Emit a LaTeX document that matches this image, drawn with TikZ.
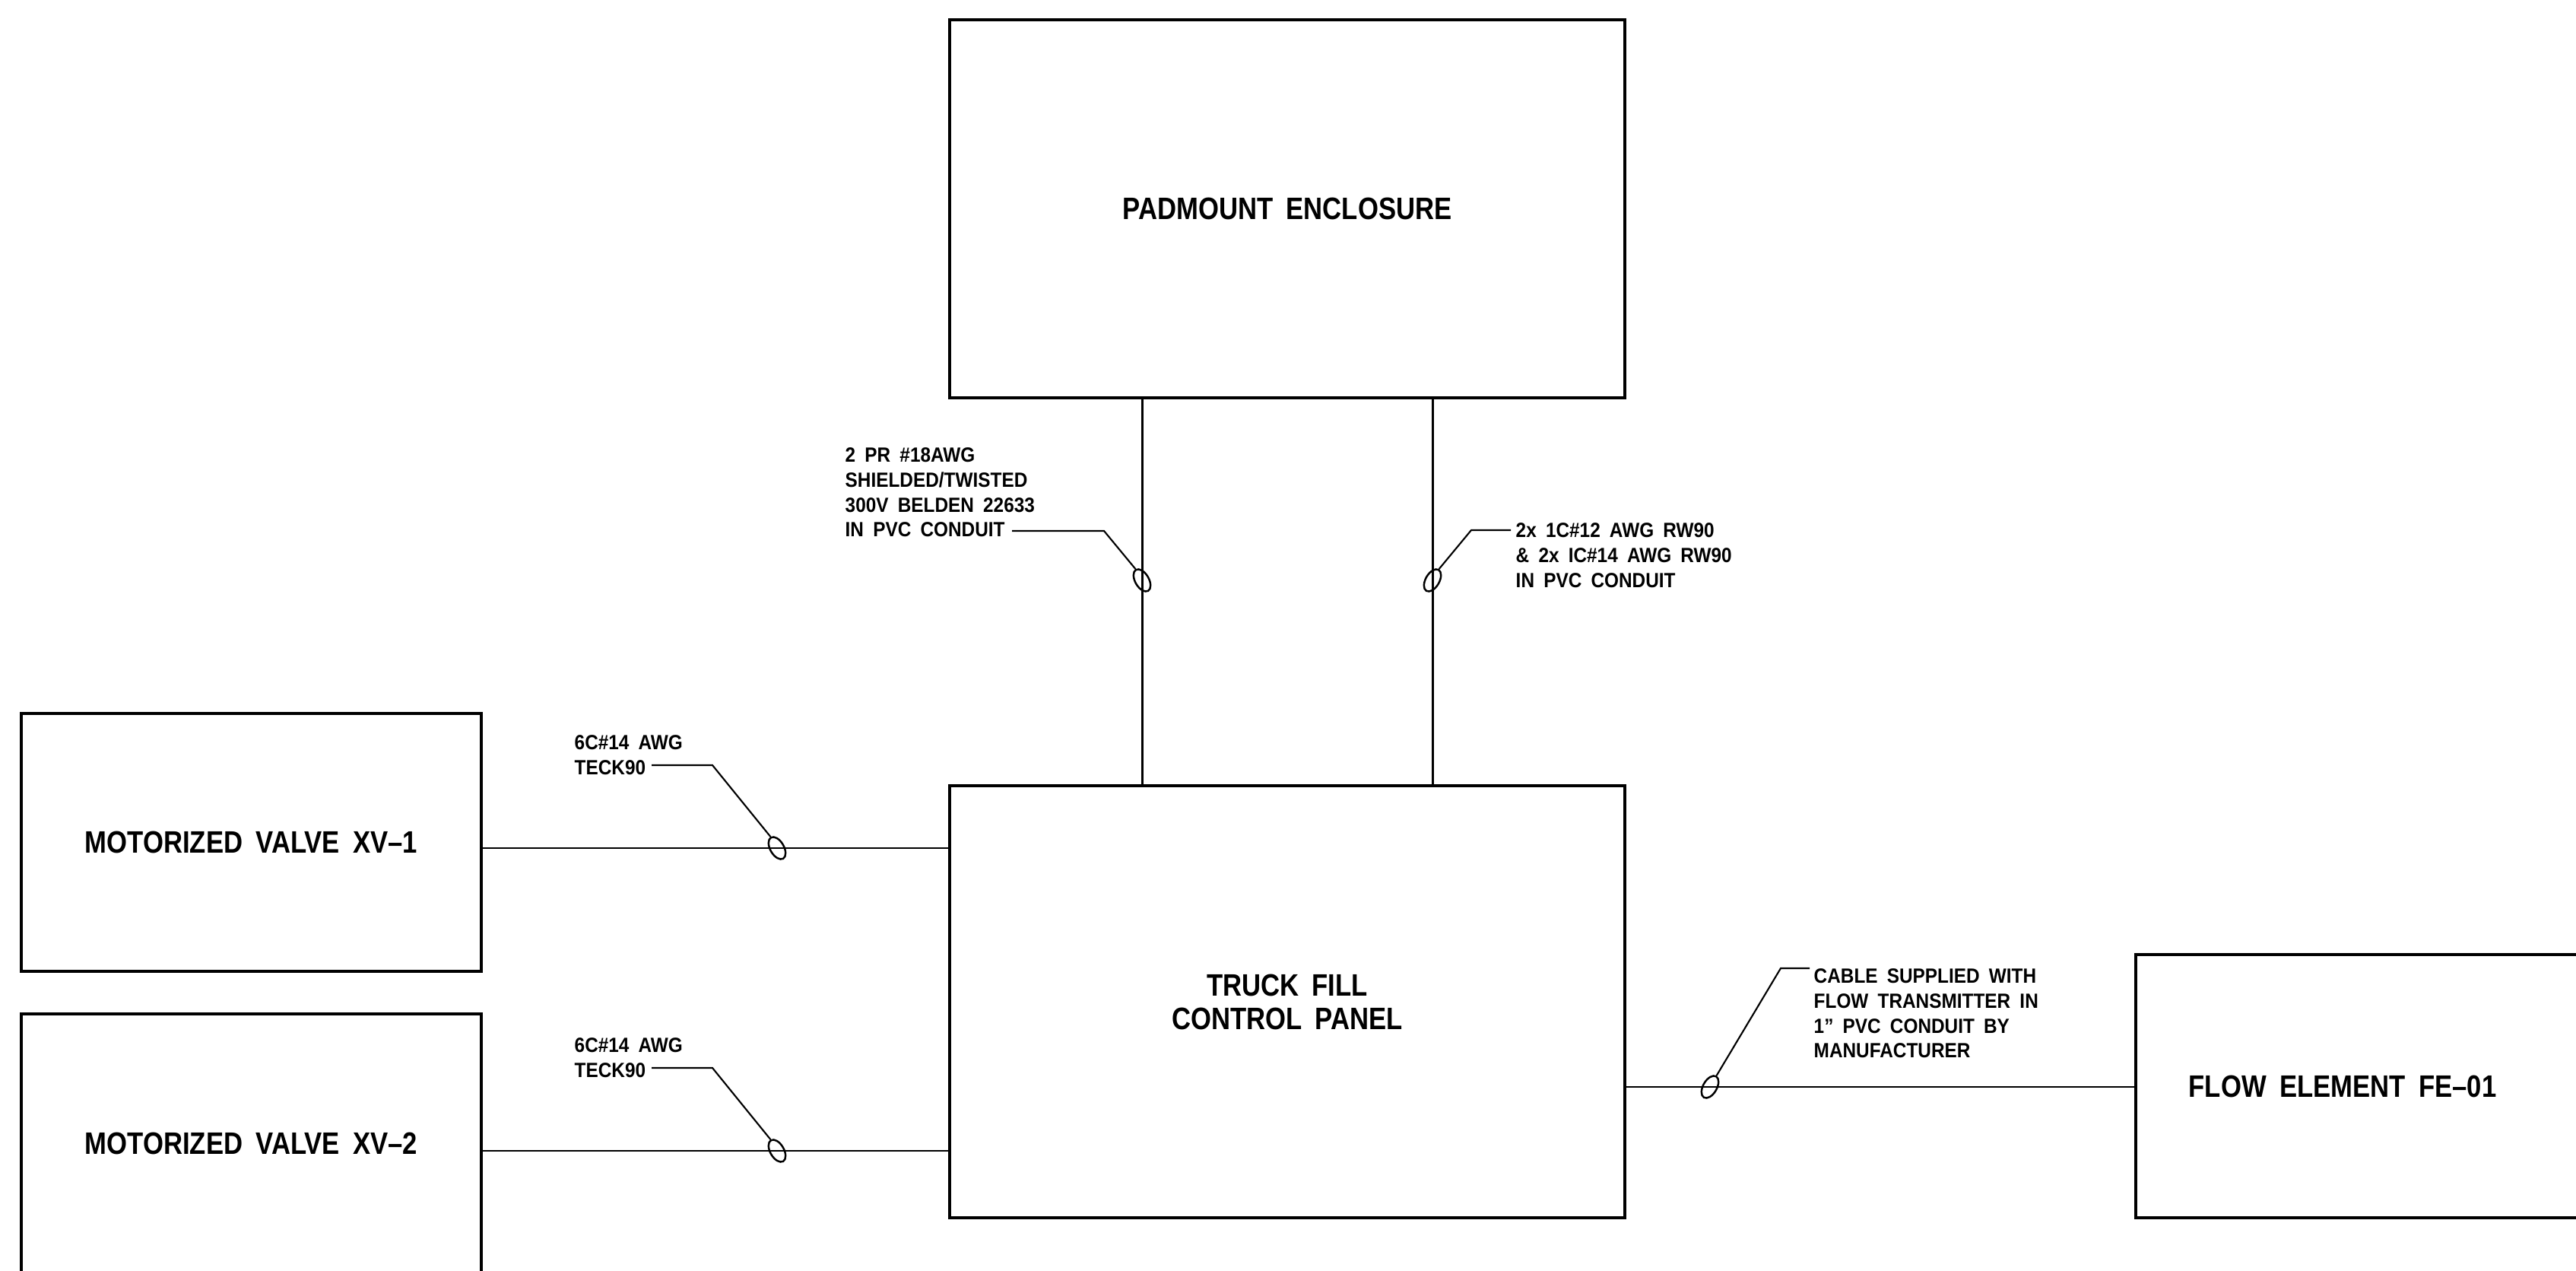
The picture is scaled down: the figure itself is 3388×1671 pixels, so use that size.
\documentclass[tikz,border=0pt]{standalone}
\usepackage{fontspec}
\setmainfont{Liberation Sans}[FakeStretch=0.9,WordSpace=1.8]
\newfontfamily\boxfont{Liberation Sans}[Ligatures=TeX,FakeStretch=0.85,WordSpace=1.8]
\usetikzlibrary{shapes.geometric}

\begin{document}
\begin{tikzpicture}[x=0.01cm, y=-0.01cm,
    box/.style={draw, rectangle, line width=1.1pt, inner sep=0pt, align=center,
        font=\boxfont\bfseries\fontsize{11.6}{12.5}\selectfont},
    boxtext/.style={inner sep=0pt, font=\boxfont\bfseries\fontsize{11.6}{12.5}\selectfont},
    note/.style={inner sep=0pt, align=left, anchor=north west,
        font=\fontsize{7.7}{9.3}\selectfont\bfseries},
    wire/.style={line width=0.85pt},
    lead/.style={line width=0.6pt},
    tie/.style={draw, ellipse, line width=0.7pt, inner sep=0pt,
        minimum width=0.32cm, minimum height=0.18cm}]

        \useasboundingbox (0,0) rectangle (3388,1671);
        \clip (0,0) rectangle (3388,1671);

        % equipment
        \node[box, minimum width=8.88cm, minimum height=4.97cm] (pad) at (1693,274.5) {PADMOUNT ENCLOSURE};
        \node[box, minimum width=8.88cm, minimum height=5.68cm] (panel) at (1693,1317) {TRUCK FILL\\CONTROL PANEL};
        \node[box, minimum width=6.05cm, minimum height=3.39cm] (xv1) at (330.5,1107.5) {MOTORIZED VALVE XV--1};
        \node[box, minimum width=6.05cm, minimum height=3.39cm] (xv2) at (330.5,1503) {MOTORIZED VALVE XV--2};
        \node[box, minimum width=6.11cm, minimum height=3.46cm] (fe) at (3114.5,1428) {};
        \node[boxtext] (fel) at (3081,1428) {FLOW ELEMENT FE--01};

        % cable ties
        \node[tie, rotate=-60] (t1) at (1502,763) {};
        \node[tie, rotate=60] (t2) at (1884,763) {};
        \node[tie, rotate=-60] (t3) at (1022,1115) {};
        \node[tie, rotate=-60] (t4) at (1022,1513) {};
        \node[tie, rotate=60] (t5) at (2249,1429) {};

        % cables
        \draw[wire] (pad.south -| t1) -- (panel.north -| t1);
        \draw[wire] (pad.south -| t2) -- (panel.north -| t2);
        \draw[wire] (xv1.east |- t3) -- (panel.west |- t3);
        \draw[wire] (xv2.east |- t4) -- (panel.west |- t4);
        \draw[wire] (panel.east |- t5) -- (fe.west |- t5);

        % cable notes
        \node[note] (n1) at (1111,588) {2 PR \#18AWG\\SHIELDED/TWISTED\\300V BELDEN 22633\\IN PVC CONDUIT};
        \node[note] (n2) at (1993,687) {2x 1C\#12 AWG RW90\\\& 2x IC\#14 AWG RW90\\IN PVC CONDUIT};
        \node[note] (n3) at (755,966) {6C\#14 AWG\\TECK90};
        \node[note] (n4) at (755,1364) {6C\#14 AWG\\TECK90};
        \node[note] (n5) at (2385,1273) {CABLE SUPPLIED WITH\\FLOW TRANSMITTER IN\\1'' PVC CONDUIT BY\\MANUFACTURER};

        \coordinate (k1) at (1331,698);
        \coordinate (k2) at (1987,697);
        \coordinate (k3) at (857,1006);
        \coordinate (k4) at (857,1404);
        \coordinate (k5) at (2380,1273);

        \draw[lead] (k1) -- ++(121,0) -- (t1.west);
        \draw[lead] (k2) -- ++(-52,0) -- (t2.east);
        \draw[lead] (k3) -- ++(80,0) -- (t3.west);
        \draw[lead] (k4) -- ++(80,0) -- (t4.west);
        \draw[lead] (k5) -- ++(-38,0) -- (t5.east);
\end{tikzpicture}
\end{document}
